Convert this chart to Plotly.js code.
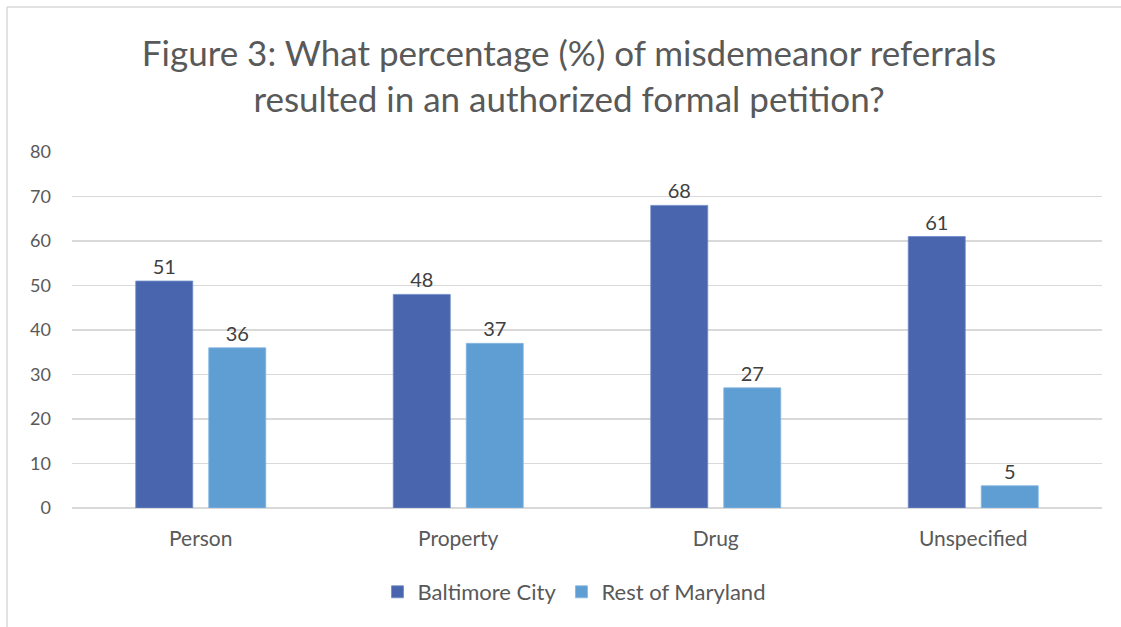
<!DOCTYPE html>
<html>
<head>
<meta charset="utf-8">
<script src="https://cdn.plot.ly/plotly-3.0.1.min.js"></script>
<style>
  html, body { margin: 0; padding: 0; background: #fff; }
  #chart { width: 1121px; height: 627px; }
</style>
</head>
<body>
<div id="chart"></div>
<script>
const categories = ["Person", "Property", "Drug", "Unspecified"];
const seriesNames = ["Baltimore City", "Rest of Maryland"];
const baltimoreCity = [51, 48, 68, 61];
const restOfMaryland = [36, 37, 27, 5];
const yTicks = [0, 10, 20, 30, 40, 50, 60, 70, 80];

const FONT = "Lato, 'Open Sans', sans-serif";
const TEXT = "#595959";

const traces = [
  {
    type: "bar", name: seriesNames[0], x: categories, y: baltimoreCity,
    marker: { color: "#4865AD", line: { color: "#6f8bc8", width: 0.8 } },
    text: baltimoreCity.map(String), textposition: "outside", cliponaxis: false,
    textfont: { family: FONT, size: 20, color: "#404040" }
  },
  {
    type: "bar", name: seriesNames[1], x: categories, y: restOfMaryland,
    marker: { color: "#5F9ED3", line: { color: "#86b6e0", width: 0.8 } },
    text: restOfMaryland.map(String), textposition: "outside", cliponaxis: false,
    textfont: { family: FONT, size: 20, color: "#404040" }
  }
];

const layout = {
  width: 1121, height: 627,
  paper_bgcolor: "#fff", plot_bgcolor: "#fff",
  font: { family: FONT, color: TEXT },
  margin: { l: 72, r: 19, t: 152, b: 119 },
  title: {
    text: "Figure 3: What percentage (%) of misdemeanor referrals<br>resulted in an authorized formal petition?",
    font: { family: FONT, size: 35, color: TEXT },
    x: 569 / 1121, xanchor: "center", xref: "container",
    y: 1 - 66 / 627, yanchor: "middle", yref: "container"
  },
  barmode: "group",
  bargap: 0.433,
  bargroupgap: 0.219,
  xaxis: {
    type: "category",
    tickfont: { family: FONT, size: 21, color: TEXT },
    showgrid: false, zeroline: false,
    showline: false, ticks: "",
    ticklabelstandoff: 16
  },
  yaxis: {
    range: [0, 80],
    tickvals: yTicks, ticktext: yTicks.map(String),
    tickfont: { family: FONT, size: 18, color: TEXT },
    showgrid: true, gridcolor: "#D9D9D9", gridwidth: 1.3,
    zeroline: true, zerolinecolor: "#D9D9D9", zerolinewidth: 1.3,
    showline: false, ticks: "",
    ticklabelstandoff: 20
  },
  showlegend: true,
  legend: {
    orientation: "h",
    x: 574 / 1121, xanchor: "center", xref: "container",
    y: 1 - 592 / 627, yanchor: "middle", yref: "container",
    font: { family: FONT, size: 22, color: TEXT },
    itemwidth: 30, traceorder: "normal"
  },
  shapes: [
    { type: "line", xref: "paper", yref: "paper",
      x0: -65 / 1030, x1: 1.05, y0: 1 + 145 / 356, y1: 1 + 145 / 356,
      line: { color: "#D9D9D9", width: 1.5 } },
    { type: "line", xref: "paper", yref: "paper",
      x0: -65 / 1030, x1: -65 / 1030, y0: 1 + 145 / 356, y1: -130 / 356,
      line: { color: "#D9D9D9", width: 1.5 } }
  ]
};

Plotly.newPlot("chart", traces, layout, { displayModeBar: false, staticPlot: true });
</script>
</body>
</html>
